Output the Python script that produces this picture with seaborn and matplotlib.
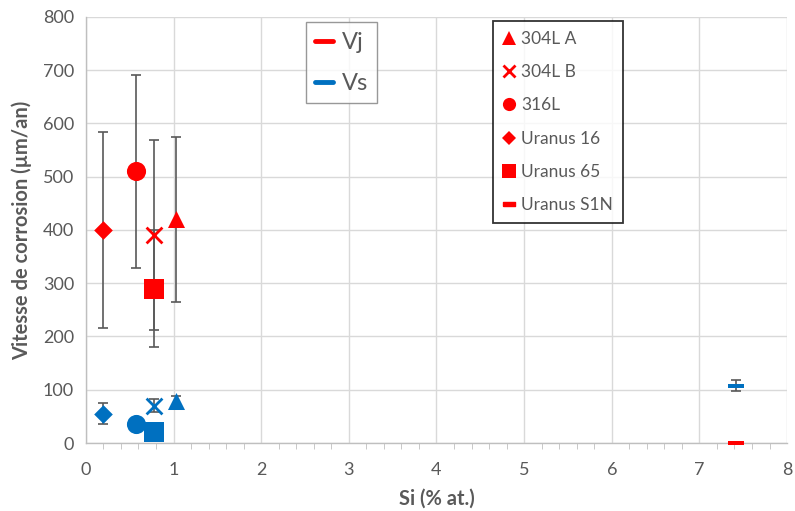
import numpy as np
import pandas as pd
import seaborn as sns
import matplotlib.pyplot as plt
from matplotlib.lines import Line2D
from matplotlib.ticker import MultipleLocator

# data
alloys = ["304L A", "304L B", "316L", "Uranus 16", "Uranus 65", "Uranus S1N"]
si = [1.03, 0.78, 0.57, 0.20, 0.78, 7.42]
vj = [420, 390, 510, 400, 290, 0]
vj_err = [155, 178, 181, 184, 109, 0]
vs = [78, 70, 35, 55, 20, 108]
vs_err = [10, 12, 0, 20, 0, 10]

red = "#FF0000"
blue = "#0070C0"
grey = "#595959"

bar = [(-1, -0.28), (1, -0.28), (1, 0.28), (-1, 0.28), (-1, -0.28)]
markers = {"304L A": "^", "304L B": "x", "316L": "o",
           "Uranus 16": "D", "Uranus 65": "s", "Uranus S1N": bar}
sizes = {"304L A": 150, "304L B": 130, "316L": 190,
         "Uranus 16": 90, "Uranus 65": 190, "Uranus S1N": 120}

df = pd.DataFrame({"alloy": alloys, "si": si, "vj": vj, "vj_err": vj_err,
                   "vs": vs, "vs_err": vs_err})

sns.set_style("white")
plt.rcParams["font.family"] = ["Lato", "DejaVu Sans"]

fig = plt.figure(figsize=(7.95, 5.11), dpi=100)
ax = fig.add_axes([0.108, 0.133, 0.882, 0.834])

# error bars first so markers sit on top
for col, ecol in [("vj", "vj_err"), ("vs", "vs_err")]:
    sub = df[df[ecol] > 0]
    ax.errorbar(sub["si"], sub[col], yerr=sub[ecol], fmt="none", ecolor=grey,
                elinewidth=1.2, capsize=3.5, capthick=1.2, zorder=2)

for a in alloys:
    row = df[df["alloy"] == a]
    for col, c in [("vj", red), ("vs", blue)]:
        m = markers[a]
        if m == "x":
            sns.scatterplot(data=row, x="si", y=col, marker="x", s=sizes[a],
                            color=c, linewidth=2, ax=ax, zorder=3, clip_on=False)
        else:
            sns.scatterplot(data=row, x="si", y=col, marker=m, s=sizes[a],
                            color=c, edgecolor=c, linewidth=0, ax=ax, zorder=3,
                            clip_on=False)

ax.set_xlim(0, 8)
ax.set_ylim(0, 800)
ax.xaxis.set_major_locator(MultipleLocator(1))
ax.xaxis.set_minor_locator(MultipleLocator(0.2))
ax.yaxis.set_major_locator(MultipleLocator(100))
ax.grid(True, which="major", color="#D9D9D9", linewidth=1)
ax.set_axisbelow(True)
for s in ["top", "right"]:
    ax.spines[s].set_visible(False)
for s in ["left", "bottom"]:
    ax.spines[s].set_color("#BFBFBF")
    ax.spines[s].set_linewidth(1)
ax.tick_params(axis="both", which="major", direction="out", length=5,
               color="#BFBFBF", labelcolor=grey, labelsize=13)
ax.tick_params(axis="x", which="minor", direction="out", length=4,
               color="#BFBFBF", bottom=True)
ax.tick_params(axis="x", pad=9)
ax.set_xlabel("Si (% at.)", fontsize=14.5, fontweight="bold", color=grey,
              labelpad=7)
ax.set_ylabel("Vitesse de corrosion (µm/an)", fontsize=14.5, fontweight="bold",
              color=grey, labelpad=8)

# series legend
h1 = [Line2D([], [], color=red, lw=3.5, solid_capstyle="round"),
      Line2D([], [], color=blue, lw=3.5, solid_capstyle="round")]
leg1 = ax.legend(h1, ["Vj", "Vs"], loc="upper left",
                 bbox_to_anchor=(0.314, 0.987), fontsize=17, handlelength=0.75,
                 handletextpad=0.35, labelspacing=0.85, borderpad=0.4,
                 fancybox=False, frameon=True, labelcolor=grey, borderaxespad=0)
leg1.get_frame().set_edgecolor("#7F7F7F")
leg1.get_frame().set_linewidth(1)
ax.add_artist(leg1)

# alloy legend
h2 = []
for a in alloys:
    m = markers[a]
    if m == "x":
        h2.append(Line2D([], [], ls="none", marker="x", color=red, ms=9, mew=2))
    elif a == "Uranus S1N":
        h2.append(Line2D([], [], ls="none", marker=bar, color=red, ms=9))
    else:
        ms = 7 if m == "D" else 9.5
        h2.append(Line2D([], [], ls="none", marker=m, color=red, ms=ms, mew=0))
leg2 = ax.legend(h2, alloys, loc="upper left", bbox_to_anchor=(0.58, 0.99),
                 fontsize=12.5, handlelength=0.8, handletextpad=0.3,
                 labelspacing=1.0, borderpad=0.55, fancybox=False,
                 frameon=True, labelcolor=grey, borderaxespad=0)
leg2.get_frame().set_edgecolor("black")
leg2.get_frame().set_linewidth(1.3)

fig.savefig("out.png", dpi=100)
